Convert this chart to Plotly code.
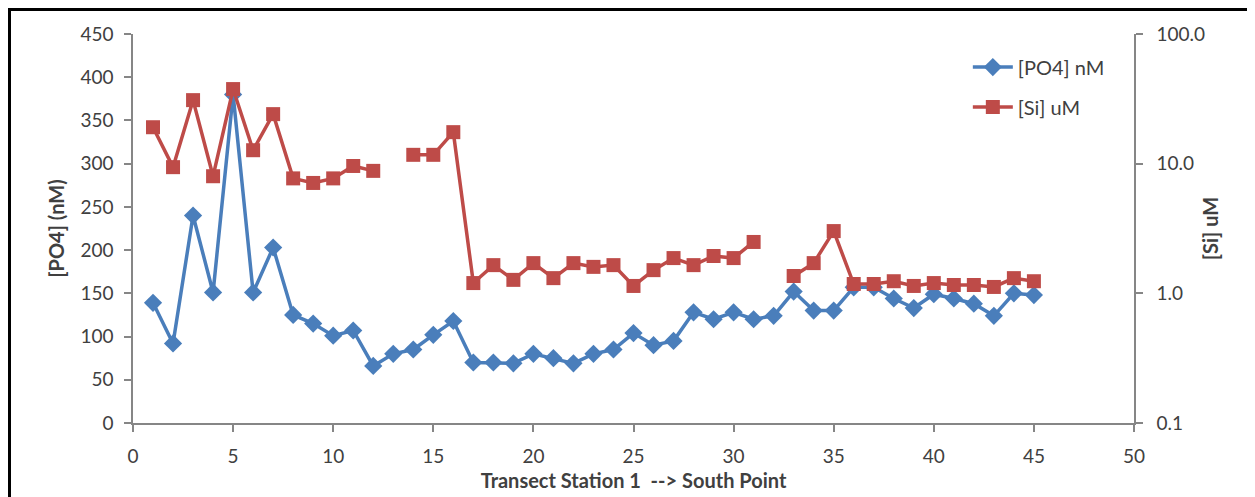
import plotly.graph_objects as go

stations = list(range(1, 46))

po4_nM = [139, 92, 240, 151, 380, 151, 203, 125, 115, 101,
          107, 66, 80, 85, 102, 118, 70, 70, 69, 80,
          75, 69, 80, 85, 104, 90, 95, 128, 120, 128,
          120, 124, 152, 130, 130, 157, 157, 144, 133, 149,
          144, 138, 124, 150, 148]

si_uM = [19.1, 9.4, 30.9, 8.0, 37.6, 12.7, 24.1, 7.7, 7.1, 7.7,
         9.6, 8.8, None, 11.7, 11.7, 17.5, 1.2, 1.65, 1.27, 1.71,
         1.31, 1.71, 1.6, 1.65, 1.14, 1.51, 1.87, 1.65, 1.94, 1.87,
         2.49, None, 1.36, 1.71, 3.02, 1.18, 1.18, 1.24, 1.14, 1.2,
         1.16, 1.16, 1.12, 1.31, 1.24]

left_ticks = list(range(0, 451, 50))
right_ticks = [0.1, 1.0, 10.0, 100.0]
right_tick_labels = ["0.1", "1.0", "10.0", "100.0"]
x_ticks = list(range(0, 51, 5))

BLUE = "#4A7EBB"
RED = "#BE4B48"
AXIS = "#868686"
TXT = "#404040"
FONT = "Lato"

# figure sits 8px inside the page (body margin)
W, H = 1247, 489
L, T = 125, 26
PW, PH = 1001, 389

fig = go.Figure()
fig.add_trace(go.Scatter(
    x=stations, y=po4_nM, name="[PO4] nM", mode="lines+markers",
    legendgroup="a",
    line=dict(color=BLUE, width=3.5),
    marker=dict(symbol="diamond", size=14, color=BLUE),
    yaxis="y"))
fig.add_trace(go.Scatter(
    x=stations, y=si_uM, name="[Si] uM", mode="lines+markers",
    legendgroup="b",
    line=dict(color=RED, width=3.5),
    marker=dict(symbol="square", size=14, color=RED),
    connectgaps=False, yaxis="y2"))

fig.update_layout(
    width=W, height=H,
    margin=dict(l=L, r=W - L - PW, t=T, b=H - T - PH, autoexpand=False),
    paper_bgcolor="white", plot_bgcolor="white",
    font=dict(family=FONT, size=19, color=TXT),
    showlegend=True,
    legend=dict(x=0.834, y=0.965, xanchor="left", yanchor="top",
                bgcolor="rgba(0,0,0,0)", font=dict(size=20, color=TXT),
                itemwidth=40, tracegroupgap=11),
    xaxis=dict(range=[0, 50], tickvals=x_ticks, showgrid=False, zeroline=False,
               showline=True, linecolor=AXIS, linewidth=1.5,
               ticks="outside", ticklen=7, tickcolor=AXIS, tickwidth=1.5,
               ticklabelstandoff=8,
               title=dict(text="<b>Transect Station 1\u00a0 --> South Point</b>",
                          font=dict(size=20, color=TXT), standoff=8)),
    yaxis=dict(range=[0, 450], tickvals=left_ticks, showgrid=False, zeroline=False,
               showline=True, linecolor=AXIS, linewidth=1.5,
               ticks="outside", ticklen=7, tickcolor=AXIS, tickwidth=1.5,
               ticklabelstandoff=7,
               title=dict(text="<b>[PO4] (nM)</b>", font=dict(size=20, color=TXT), standoff=10)),
    yaxis2=dict(type="log", range=[-1, 2], overlaying="y", side="right",
                tickvals=right_ticks, ticktext=right_tick_labels,
                showgrid=False, zeroline=False,
                showline=True, linecolor=AXIS, linewidth=1.5,
                ticks="outside", ticklen=7, tickcolor=AXIS, tickwidth=1.5,
                ticklabelstandoff=10,
                title=dict(text="<b>[Si] uM</b>", font=dict(size=20, color=TXT), standoff=0)),
    shapes=[dict(type="rect", xref="paper", yref="paper",
                 x0=(1.5 - L) / PW, x1=(1245 - L) / PW,
                 y0=-(H + 10 - T - PH) / PH, y1=(T + PH - 1.5) / PH,
                 line=dict(color="black", width=3), fillcolor="rgba(0,0,0,0)")],
)

fig.write_html("out.html")
